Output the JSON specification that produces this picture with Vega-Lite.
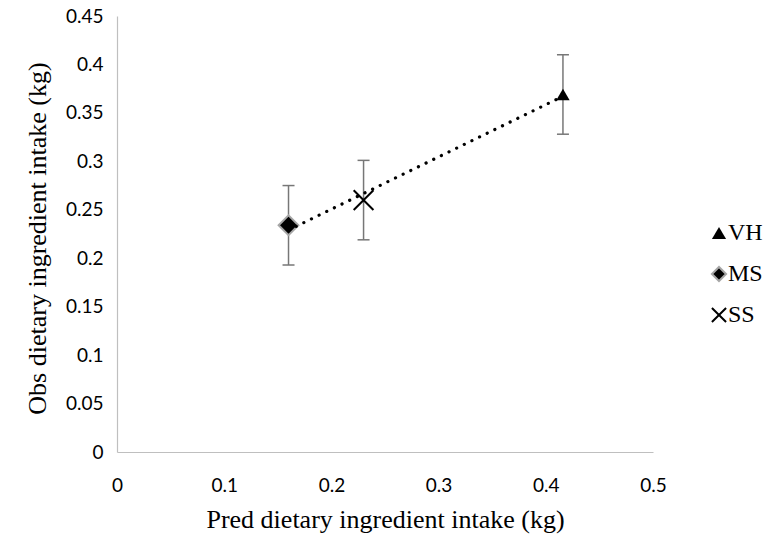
{
  "$schema": "https://vega.github.io/schema/vega-lite/v6.json",
  "width": 536,
  "height": 436,
  "autosize": {"type": "none"},
  "padding": {"left": 117, "top": 16, "right": 120, "bottom": 88},
  "background": "white",
  "data": {
    "values": [
      {"group": "VH", "pred": 0.416, "obs": 0.369, "lo": 0.328, "hi": 0.41},
      {"group": "MS", "pred": 0.16, "obs": 0.234, "lo": 0.193, "hi": 0.275},
      {"group": "SS", "pred": 0.23, "obs": 0.26, "lo": 0.219, "hi": 0.301}
    ]
  },
  "layer": [
    {
      "mark": {"type": "rule", "color": "#777777", "strokeWidth": 1.5},
      "encoding": {
        "x": {"field": "pred", "type": "quantitative"},
        "y": {"field": "lo", "type": "quantitative"},
        "y2": {"field": "hi"}
      }
    },
    {
      "mark": {"type": "tick", "orient": "horizontal", "color": "#777777", "size": 12, "thickness": 1.5, "opacity": 1},
      "encoding": {
        "x": {"field": "pred", "type": "quantitative"},
        "y": {"field": "lo", "type": "quantitative"}
      }
    },
    {
      "mark": {"type": "tick", "orient": "horizontal", "color": "#777777", "size": 12, "thickness": 1.5, "opacity": 1},
      "encoding": {
        "x": {"field": "pred", "type": "quantitative"},
        "y": {"field": "hi", "type": "quantitative"}
      }
    },
    {
      "mark": {"type": "point", "strokeWidth": 2, "opacity": 1},
      "encoding": {
        "x": {
          "field": "pred", "type": "quantitative",
          "scale": {"domain": [0, 0.5], "nice": false, "zero": false},
          "axis": {
            "values": [0, 0.1, 0.2, 0.3, 0.4, 0.5],
            "format": "~g",
            "title": "Pred dietary ingredient intake (kg)",
            "labelPadding": 24,
            "titleY": 75,
            "titleBaseline": "alphabetic"
          }
        },
        "y": {
          "field": "obs", "type": "quantitative",
          "scale": {"domain": [0, 0.45], "nice": false, "zero": false},
          "axis": {
            "values": [0, 0.05, 0.1, 0.15, 0.2, 0.25, 0.3, 0.35, 0.4, 0.45],
            "format": "~g",
            "title": "Obs dietary ingredient intake (kg)",
            "labelPadding": 14,
            "titleX": -72,
            "titleY": 222,
            "titleBaseline": "alphabetic",
            "titleAngle": -90,
            "titleAlign": "center"
          }
        },
        "shape": {
          "field": "group", "type": "nominal",
          "scale": {"domain": ["VH", "MS", "SS"], "range": ["triangle-up", "diamond", "M-1,-1L1,1M-1,1L1,-1"]},
          "legend": {"title": null}
        },
        "fill": {
          "field": "group", "type": "nominal",
          "scale": {"domain": ["VH", "MS", "SS"], "range": ["#000000", "#000000", "transparent"]},
          "legend": {"title": null}
        },
        "stroke": {
          "field": "group", "type": "nominal",
          "scale": {"domain": ["VH", "MS", "SS"], "range": ["transparent", "#a6a6a6", "#000000"]},
          "legend": {"title": null}
        },
        "size": {
          "condition": {"test": "datum.group === 'VH'", "value": 180},
          "value": 390
        }
      }
    },
    {
      "transform": [{"regression": "obs", "on": "pred"}],
      "mark": {"type": "line", "color": "#000000", "strokeWidth": 3.2, "strokeDash": [0.1, 8.4], "strokeCap": "round"},
      "encoding": {
        "x": {"field": "pred", "type": "quantitative"},
        "y": {"field": "obs", "type": "quantitative"}
      }
    }
  ],
  "config": {
    "view": {"stroke": null},
    "axis": {
      "grid": false,
      "ticks": false,
      "tickSize": 0,
      "domainColor": "#bfbfbf",
      "domainWidth": 1.2,
      "labelFont": "Lato",
      "labelFontSize": 19,
      "labelColor": "#000000",
      "labelFlush": false,
      "labelOverlap": false,
      "titleFont": "Liberation Serif",
      "titleFontSize": 26,
      "titleFontWeight": "normal",
      "titleColor": "#000000"
    },
    "legend": {
      "orient": "none",
      "legendX": 590,
      "legendY": 205,
      "labelFont": "Liberation Serif",
      "labelFontSize": 24,
      "labelColor": "#000000",
      "labelOffset": -3,
      "symbolSize": 200,
      "symbolStrokeWidth": 2,
      "rowPadding": 17,
      "padding": 0
    }
  }
}
